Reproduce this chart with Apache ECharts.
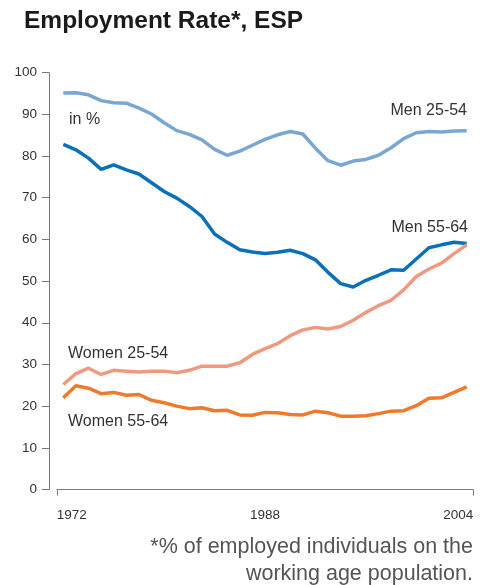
<!DOCTYPE html>
<html>
<head>
<meta charset="utf-8">
<script src="https://cdn.jsdelivr.net/npm/echarts@6/dist/echarts.min.js"></script>
<style>
  html, body { margin: 0; padding: 0; background: #fff; }
  #chart { width: 490px; height: 585px; }
</style>
</head>
<body>
<div id="chart"></div>
<script>
const years = []
for (let y = 1972; y <= 2004; y++) years.push(y)
const xTickLabels = [1972, 1988, 2004]

const men2554 = [95.1, 95.2, 94.7, 93.3, 92.8, 92.7, 91.5, 90.1, 88.0, 86.1, 85.2, 83.9, 81.6, 80.2, 81.2, 82.6, 84.0,
  85.1, 85.9, 85.3, 81.9, 78.9, 77.8, 78.8, 79.2, 80.2, 82.0, 84.2, 85.6, 85.9, 85.8, 86.0, 86.1]
const men5564 = [82.8, 81.5, 79.5, 76.8, 77.9, 76.7, 75.7, 73.6, 71.5, 69.9, 67.9, 65.5, 61.3, 59.3, 57.5, 57.0, 56.6,
  56.9, 57.4, 56.6, 55.1, 52.1, 49.4, 48.6, 50.2, 51.4, 52.7, 52.6, 55.3, 58.0, 58.7, 59.3, 59.0]
const women2554 = [25.2, 27.8, 29.1, 27.6, 28.6, 28.4, 28.2, 28.4, 28.4, 28.0, 28.6, 29.6, 29.6, 29.6, 30.4, 32.4, 33.8,
  35.0, 36.9, 38.3, 38.9, 38.5, 39.1, 40.6, 42.5, 44.1, 45.4, 47.9, 51.1, 52.9, 54.3, 56.6, 58.7]
const women5564 = [22.0, 24.9, 24.3, 23.0, 23.3, 22.6, 22.8, 21.4, 20.8, 20.0, 19.4, 19.6, 18.9, 19.0, 17.9, 17.8, 18.5,
  18.4, 18.0, 17.9, 18.8, 18.4, 17.6, 17.6, 17.7, 18.2, 18.8, 18.9, 20.1, 21.9, 22.0, 23.3, 24.6]
const footnote = ['*% of employed individuals on the', 'working age population.']

const sans = '"Liberation Sans", Arial, sans-serif'
const axisGrey = '#7a7a7a'
const tickFont = { fontFamily: sans, fontSize: 13.5, color: '#333' }

function line(name, values, color) {
  return {
    name,
    type: 'line',
    data: values.map((v, i) => [years[i], v]),
    showSymbol: false,
    lineStyle: { color, width: 3.5 },
    z: 3
  }
}

const chart = echarts.init(document.getElementById('chart'))
chart.setOption({
  animation: false,
  title: {
    text: 'Employment Rate*, ESP',
    left: 19, top: 4,
    textStyle: { fontFamily: sans, fontWeight: 'bold', fontSize: 24.5, color: '#1a1a1a' }
  },
  grid: { left: 57, right: 17, top: 72.7, bottom: 95.5 },
  xAxis: {
    type: 'value', min: 1971.5, max: 2004.5, offset: 8.5,
    axisLine: { lineStyle: { color: axisGrey, width: 1 } },
    axisTick: { customValues: [1971.5, 2004.5], length: 6, lineStyle: { color: axisGrey } },
    axisLabel: {
      customValues: xTickLabels, margin: 10,
      formatter: v => v === 1972 ? '{a|' + v + '}' : v === 2004 ? '{b|' + v + '}' : '{c|' + v + '}',
      rich: {
        a: Object.assign({ padding: [0, 0, 0, 17] }, tickFont),
        b: Object.assign({ padding: [0, 17, 0, 0] }, tickFont),
        c: tickFont
      }
    },
    splitLine: { show: false }
  },
  yAxis: {
    type: 'value', min: 0, max: 100, interval: 10, offset: 8,
    axisLine: { show: true, lineStyle: { color: axisGrey, width: 1 } },
    axisTick: { show: true, length: 7, lineStyle: { color: axisGrey } },
    axisLabel: Object.assign({ margin: 12 }, tickFont),
    splitLine: { show: false }
  },
  series: [
    line('Men 25-54', men2554, '#7aa6d4'),
    line('Men 55-64', men5564, '#0a70b8'),
    line('Women 55-64', women5564, '#f07a2c'),
    line('Women 25-54', women2554, '#ef9a80')
  ],
  graphic: [
    { type: 'text', left: 69, top: 112, style: { text: 'in %', font: '16px ' + sans, fill: '#333' } },
    { type: 'text', right: 23, top: 103, style: { text: 'Men 25-54', font: '16px ' + sans, fill: '#333' } },
    { type: 'text', right: 22, top: 220, style: { text: 'Men 55-64', font: '16px ' + sans, fill: '#333' } },
    { type: 'text', left: 68, top: 346, style: { text: 'Women 25-54', font: '16px ' + sans, fill: '#333' } },
    { type: 'text', left: 68, top: 414, style: { text: 'Women 55-64', font: '16px ' + sans, fill: '#333' } },
    { type: 'text', right: 17, top: 536, style: { text: footnote[0], font: '21.5px ' + sans, fill: '#555' } },
    { type: 'text', right: 17, top: 563, style: { text: footnote[1], font: '21.5px ' + sans, fill: '#555' } }
  ]
})
</script>
</body>
</html>
